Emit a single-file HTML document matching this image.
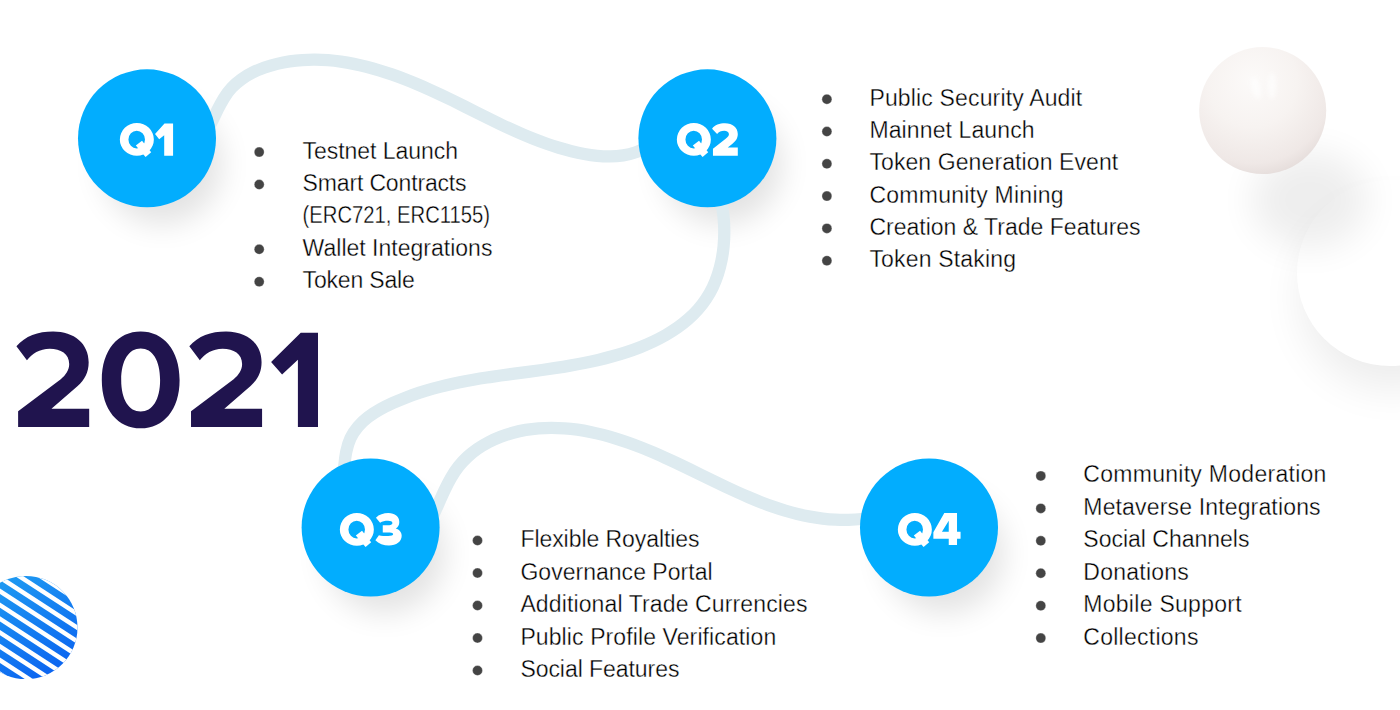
<!DOCTYPE html>
<html><head><meta charset="utf-8">
<style>
html,body{margin:0;padding:0;background:#fff;}
body{width:1400px;height:710px;overflow:hidden;position:relative;font-family:"Liberation Sans",sans-serif;}
svg{position:absolute;left:0;top:0;}
</style></head><body>
<svg width="1400" height="710" viewBox="0 0 1400 710">
<defs>
  <filter id="sh" x="-60%" y="-60%" width="220%" height="220%"><feGaussianBlur stdDeviation="15"/></filter>
  <filter id="hl" x="-100%" y="-100%" width="300%" height="300%"><feGaussianBlur stdDeviation="2"/></filter>
  <filter id="sh3" x="-60%" y="-60%" width="220%" height="220%"><feGaussianBlur stdDeviation="15"/></filter>
  <filter id="sh4" x="-60%" y="-60%" width="220%" height="220%"><feGaussianBlur stdDeviation="18"/></filter>
  <filter id="sh2" x="-60%" y="-60%" width="220%" height="220%"><feGaussianBlur stdDeviation="22"/></filter>
  <radialGradient id="sph" cx="0.42" cy="0.30" r="0.78" fx="0.42" fy="0.26">
    <stop offset="0" stop-color="#fcfaf9"/>
    <stop offset="0.45" stop-color="#f7f3f1"/>
    <stop offset="0.8" stop-color="#efe8e6"/>
    <stop offset="1" stop-color="#e0d7d5"/>
  </radialGradient>
  <linearGradient id="stripeg" x1="0" y1="0" x2="0.6" y2="1">
    <stop offset="0" stop-color="#22a6f2"/>
    <stop offset="1" stop-color="#0b62f0"/>
  </linearGradient>
  <clipPath id="stripeclip"><circle cx="25.9" cy="627.5" r="51.6"/></clipPath>
  
</defs>

<!-- shadows for big right circle and sphere -->
<circle cx="1392" cy="298" r="90" fill="#000" opacity="0.075" filter="url(#sh2)"/>
<circle cx="1390" cy="273" r="93" fill="#fff"/>
<ellipse cx="1310" cy="200" rx="58" ry="48" fill="#000" opacity="0.065" filter="url(#sh4)"/>

<!-- circle shadows -->
<g fill="#000" opacity="0.11" filter="url(#sh)">
  <circle cx="162" cy="164" r="60"/>
  <circle cx="722" cy="164" r="60"/>
  <circle cx="385" cy="553" r="60"/>
  <circle cx="944" cy="553" r="60"/>
</g>
<!-- road -->
<g fill="none" stroke="#deebf0" stroke-width="12.3" stroke-linecap="round">
<path d="M205.23 133.20 C207.50 129.83 209.55 126.08 211.54 122.16 C213.52 118.23 215.44 114.13 217.45 110.06 C219.46 105.99 221.56 101.96 223.90 98.16 C226.24 94.36 228.85 90.81 231.81 87.66 C234.76 84.50 238.03 81.69 241.53 79.19 C245.02 76.69 248.75 74.50 252.63 72.58 C256.51 70.65 260.55 69.00 264.65 67.56 C268.75 66.13 272.92 64.92 277.10 63.90 C281.28 62.88 285.48 62.06 289.70 61.42 C293.92 60.77 298.15 60.31 302.40 60.02 C306.65 59.73 310.91 59.61 315.17 59.65 C319.44 59.69 323.71 59.88 327.99 60.21 C332.27 60.55 336.55 61.03 340.83 61.64 C345.11 62.25 349.39 62.99 353.66 63.85 C357.93 64.71 362.20 65.69 366.45 66.77 C370.70 67.86 374.95 69.05 379.18 70.33 C383.41 71.61 387.62 72.98 391.81 74.43 C396.00 75.88 400.18 77.41 404.32 79.01 C408.47 80.61 412.59 82.27 416.69 83.99 C420.78 85.71 424.85 87.48 428.88 89.29 C432.91 91.11 436.91 92.96 440.88 94.84 C444.85 96.72 448.80 98.63 452.72 100.56 C456.65 102.49 460.56 104.43 464.45 106.38 C468.35 108.33 472.23 110.28 476.11 112.22 C479.99 114.17 483.86 116.11 487.73 118.02 C491.60 119.94 495.47 121.84 499.35 123.70 C503.23 125.57 507.12 127.40 511.03 129.19 C514.93 130.98 518.85 132.73 522.78 134.41 C526.72 136.10 530.68 137.73 534.67 139.30 C538.65 140.86 542.67 142.36 546.72 143.77 C550.77 145.19 554.85 146.52 558.97 147.76 C563.10 149.00 567.26 150.15 571.48 151.19 C575.69 152.24 579.95 153.18 584.26 153.98 C588.56 154.78 592.89 155.43 597.23 155.86 C601.58 156.29 605.92 156.50 610.26 156.44 C614.59 156.38 618.90 156.03 623.18 155.35 C627.45 154.66 631.67 153.62 635.84 152.21 C640.00 150.80 644.10 149.04 648.12 147.05 C652.15 145.07 656.10 142.86 659.96 140.54"/>
<path d="M718.22 190.30 C719.55 194.53 720.66 198.94 721.56 203.48 C722.46 208.02 723.15 212.68 723.61 217.42 C724.07 222.16 724.30 226.97 724.30 231.80 C724.30 236.63 724.07 241.48 723.60 246.30 C723.13 251.11 722.42 255.90 721.47 260.60 C720.51 265.29 719.30 269.91 717.84 274.38 C716.38 278.85 714.67 283.18 712.69 287.32 C710.71 291.46 708.46 295.40 705.96 299.13 C703.47 302.86 700.72 306.39 697.76 309.72 C694.79 313.06 691.61 316.21 688.23 319.18 C684.85 322.15 681.28 324.94 677.55 327.57 C673.81 330.20 669.91 332.67 665.87 334.98 C661.83 337.30 657.65 339.46 653.36 341.48 C649.08 343.51 644.68 345.39 640.19 347.15 C635.71 348.91 631.14 350.54 626.52 352.06 C621.89 353.58 617.21 354.98 612.51 356.28 C607.80 357.59 603.06 358.79 598.32 359.90 C593.58 361.02 588.84 362.04 584.12 362.99 C579.40 363.95 574.69 364.82 570.00 365.64 C565.31 366.46 560.63 367.22 555.96 367.94 C551.29 368.65 546.64 369.33 542.00 369.98 C537.36 370.63 532.73 371.25 528.12 371.86 C523.50 372.47 518.90 373.07 514.31 373.68 C509.72 374.28 505.14 374.90 500.58 375.53 C496.01 376.16 491.46 376.82 486.91 377.51 C482.37 378.20 477.84 378.93 473.32 379.71 C468.80 380.49 464.29 381.32 459.79 382.22 C455.29 383.13 450.80 384.10 446.32 385.16 C441.84 386.21 437.38 387.36 432.92 388.60 C428.46 389.84 424.01 391.18 419.57 392.64 C415.13 394.10 410.70 395.68 406.28 397.39 C401.86 399.10 397.45 400.94 393.05 402.93 C388.65 404.92 384.28 407.07 380.07 409.43 C375.86 411.79 371.83 414.36 368.09 417.21 C364.36 420.07 360.94 423.19 357.96 426.65 C354.98 430.12 352.45 433.91 350.51 438.11 C348.56 442.30 347.21 446.90 346.24 451.66 C345.27 456.42 344.69 461.34 344.26 466.17 C343.83 471.01 343.56 475.75 343.23 480.17"/>
<path d="M428.20 525.08 C430.25 521.46 432.15 517.63 434.00 513.67 C435.84 509.72 437.63 505.64 439.44 501.54 C441.25 497.43 443.08 493.30 445.03 489.24 C446.97 485.17 449.02 481.18 451.26 477.34 C453.50 473.50 455.93 469.83 458.63 466.41 C461.33 462.99 464.29 459.82 467.47 456.88 C470.65 453.95 474.05 451.26 477.62 448.79 C481.18 446.33 484.92 444.10 488.78 442.10 C492.65 440.09 496.64 438.31 500.70 436.75 C504.77 435.19 508.92 433.85 513.10 432.71 C517.29 431.58 521.50 430.66 525.74 429.93 C529.98 429.21 534.25 428.68 538.53 428.33 C542.82 427.98 547.12 427.81 551.43 427.81 C555.74 427.81 560.06 427.98 564.38 428.30 C568.71 428.62 573.03 429.09 577.36 429.70 C581.68 430.31 585.99 431.06 590.30 431.93 C594.60 432.80 598.89 433.80 603.16 434.90 C607.44 436.01 611.69 437.22 615.91 438.52 C620.13 439.83 624.33 441.23 628.49 442.71 C632.66 444.19 636.80 445.75 640.91 447.37 C645.02 449.00 649.11 450.69 653.17 452.43 C657.24 454.17 661.29 455.97 665.32 457.80 C669.35 459.64 673.36 461.51 677.36 463.41 C681.36 465.31 685.35 467.23 689.33 469.16 C693.31 471.09 697.28 473.04 701.24 474.98 C705.20 476.92 709.16 478.86 713.12 480.78 C717.08 482.70 721.04 484.61 725.00 486.48 C728.96 488.36 732.93 490.20 736.90 492.01 C740.87 493.81 744.84 495.56 748.83 497.26 C752.82 498.96 756.82 500.60 760.83 502.17 C764.84 503.74 768.87 505.23 772.92 506.65 C776.96 508.06 781.03 509.38 785.12 510.61 C789.20 511.84 793.31 512.97 797.45 513.98 C801.58 514.99 805.75 515.90 809.94 516.67 C814.13 517.45 818.35 518.09 822.61 518.60 C826.87 519.11 831.16 519.48 835.49 519.69 C839.82 519.90 844.18 519.96 848.59 519.85 C853.00 519.74 857.45 519.46 861.95 519.00 C866.45 518.54 870.99 517.90 875.58 517.06"/>
</g>

<g fill="#02adfe">
  <circle cx="147" cy="138.3" r="69"/>
  <circle cx="707.4" cy="138.3" r="69"/>
  <circle cx="370.6" cy="527.5" r="69"/>
  <circle cx="929" cy="527.5" r="69"/>
</g>

<!-- Q labels -->
<g fill="#fff">
  <g transform="translate(116,118) scale(0.059155)"><path fill-rule="evenodd" d="M65 362.5 A287.5 277.5 0 1 0 640 362.5 A287.5 277.5 0 1 0 65 362.5 Z M210 365 A140 150 0 1 0 490 365 A140 150 0 1 0 210 365 Z"/><path d="M335 465 L440 385 L595 580 L500 660 Z"/></g>
  <g transform="translate(673,118) scale(0.059155)"><path fill-rule="evenodd" d="M65 362.5 A287.5 277.5 0 1 0 640 362.5 A287.5 277.5 0 1 0 65 362.5 Z M210 365 A140 150 0 1 0 490 365 A140 150 0 1 0 210 365 Z"/><path d="M335 465 L440 385 L595 580 L500 660 Z"/></g>
  <g transform="translate(336,508) scale(0.059155)"><path fill-rule="evenodd" d="M65 362.5 A287.5 277.5 0 1 0 640 362.5 A287.5 277.5 0 1 0 65 362.5 Z M210 365 A140 150 0 1 0 490 365 A140 150 0 1 0 210 365 Z"/><path d="M335 465 L440 385 L595 580 L500 660 Z"/></g>
  <g transform="translate(894,508) scale(0.059155)"><path fill-rule="evenodd" d="M65 362.5 A287.5 277.5 0 1 0 640 362.5 A287.5 277.5 0 1 0 65 362.5 Z M210 365 A140 150 0 1 0 490 365 A140 150 0 1 0 210 365 Z"/><path d="M335 465 L440 385 L595 580 L500 660 Z"/></g>
  <path transform="translate(150,118) scale(0.05917)" d="M245 95 L390 95 L390 640 L240 640 L240 290 L155 360 L85 270 Z"/>
  <path transform="translate(710,118) scale(0.05915)" d="M35 180 C80 120 160 90 255 90 C380 90 470 165 470 270 C470 345 430 395 380 435 L300 500 L470 500 L470 640 L50 640 L50 520 L270 345 C305 318 320 300 320 275 C320 235 285 215 240 215 C190 215 150 235 120 270 Z"/>
  <g transform="translate(373,508) scale(0.05915)">
    <path d="M50 165 C100 110 180 85 260 85 C370 85 445 145 445 235 C445 290 420 325 385 345 C445 365 485 405 485 470 C485 570 395 635 270 635 C180 635 95 600 40 545 L100 460 C140 472 200 474 255 474 C310 474 340 465 340 445 C340 425 320 413 285 413 L165 413 L165 290 L275 290 C305 290 328 278 328 255 C328 228 300 215 255 215 C200 215 160 225 120 250 Z"/>
  </g>
  <path transform="translate(931,508) scale(0.05915)" fill-rule="evenodd" d="M225 85 L440 85 L440 400 L500 400 L500 520 L440 520 L440 625 L300 625 L300 520 L40 520 L40 410 Z M300 215 L300 400 L185 400 Z"/>
</g>

<!-- 2021 -->
<g fill="#20144e">
  <path id="two" transform="translate(10,320) scale(0.16918)" d="M38 155 C90 95 165 68 255 68 C380 68 465 140 465 250 C465 310 440 355 400 390 L245 525 L468 525 L468 632 L48 632 L48 540 L300 350 C330 325 350 295 350 260 C350 200 300 170 235 170 C175 170 130 200 100 238 Z"/>
  <path transform="translate(182.9,320) scale(0.16918)" d="M38 155 C90 95 165 68 255 68 C380 68 465 140 465 250 C465 310 440 355 400 390 L245 525 L468 525 L468 632 L48 632 L48 540 L300 350 C330 325 350 295 350 260 C350 200 300 170 235 170 C175 170 130 200 100 238 Z"/>
  <path fill-rule="evenodd" d="M101.8 379.9 C101.8 350 118 331.5 140.7 331.5 C163.4 331.5 179.6 350 179.6 379.9 C179.6 409.8 163.4 428.3 140.7 428.3 C118 428.3 101.8 409.8 101.8 379.9 Z M121.2 379.9 C121.2 360 129 348.4 140.7 348.4 C152.4 348.4 160.1 360 160.1 379.9 C160.1 399.8 152.4 411.4 140.7 411.4 C129 411.4 121.2 399.8 121.2 379.9 Z"/>
  <path d="M300.75 332.7 L318 332.7 L318 426.9 L297.9 426.9 L297.9 359.8 L282.1 374.5 L271.1 362 Z"/>
</g>

<!-- sphere -->
<circle cx="1262.7" cy="110.6" r="63.5" fill="url(#sph)"/>
<ellipse cx="1256" cy="88" rx="4" ry="11" fill="#fff" opacity="0.7" filter="url(#hl)" transform="rotate(-12 1256 88)"/>
<ellipse cx="1272" cy="86" rx="4" ry="13" fill="#fff" opacity="0.6" filter="url(#hl)"/>

<!-- striped circle -->
<g clip-path="url(#stripeclip)">
  <rect x="-30" y="570" width="120" height="115" fill="url(#stripeg)"/>
  <g transform="rotate(33 25.9 627.5)" fill="#fff">
    <rect x="-60" y="527.98" width="180" height="4.5"/>
    <rect x="-60" y="539.55" width="180" height="4.5"/>
    <rect x="-60" y="551.12" width="180" height="4.5"/>
    <rect x="-60" y="562.69" width="180" height="4.5"/>
    <rect x="-60" y="574.26" width="180" height="4.5"/>
    <rect x="-60" y="585.83" width="180" height="4.5"/>
    <rect x="-60" y="597.40" width="180" height="4.5"/>
    <rect x="-60" y="608.97" width="180" height="4.5"/>
    <rect x="-60" y="620.54" width="180" height="4.5"/>
    <rect x="-60" y="632.11" width="180" height="4.5"/>
    <rect x="-60" y="643.68" width="180" height="4.5"/>
    <rect x="-60" y="655.25" width="180" height="4.5"/>
    <rect x="-60" y="666.82" width="180" height="4.5"/>
    <rect x="-60" y="678.39" width="180" height="4.5"/>
    <rect x="-60" y="689.96" width="180" height="4.5"/>
  </g>
</g>

<!-- lists -->
<g font-family="Liberation Sans, sans-serif" font-size="23" fill="#000" stroke="#fff" stroke-width="0.34">
<text x="302.6" y="158.6" textLength="155.4" lengthAdjust="spacing">Testnet Launch</text>
<circle cx="259.2" cy="152.1" r="5" fill="#444"/>
<text x="302.6" y="191.0" textLength="164.0" lengthAdjust="spacing">Smart Contracts</text>
<circle cx="259.2" cy="184.5" r="5" fill="#444"/>
<text x="302.6" y="223.4" textLength="187.4" lengthAdjust="spacingAndGlyphs">(ERC721, ERC1155)</text>
<text x="302.6" y="255.8" textLength="189.8" lengthAdjust="spacing">Wallet Integrations</text>
<circle cx="259.2" cy="249.3" r="5" fill="#444"/>
<text x="302.6" y="288.2" textLength="112.2" lengthAdjust="spacing">Token Sale</text>
<circle cx="259.2" cy="281.7" r="5" fill="#444"/>
<text x="869.4" y="105.7" textLength="212.8" lengthAdjust="spacing">Public Security Audit</text>
<circle cx="826.9" cy="99.2" r="5" fill="#444"/>
<text x="869.4" y="138.0" textLength="165.2" lengthAdjust="spacing">Mainnet Launch</text>
<circle cx="826.9" cy="131.5" r="5" fill="#444"/>
<text x="869.4" y="170.3" textLength="248.8" lengthAdjust="spacing">Token Generation Event</text>
<circle cx="826.9" cy="163.8" r="5" fill="#444"/>
<text x="869.4" y="202.6" textLength="194.2" lengthAdjust="spacing">Community Mining</text>
<circle cx="826.9" cy="196.1" r="5" fill="#444"/>
<text x="869.4" y="234.9" textLength="271.2" lengthAdjust="spacing">Creation &amp; Trade Features</text>
<circle cx="826.9" cy="228.4" r="5" fill="#444"/>
<text x="869.4" y="267.2" textLength="146.6" lengthAdjust="spacing">Token Staking</text>
<circle cx="826.9" cy="260.7" r="5" fill="#444"/>
<text x="520.4" y="547.0" textLength="179.2" lengthAdjust="spacing">Flexible Royalties</text>
<circle cx="477.5" cy="540.5" r="5" fill="#444"/>
<text x="520.4" y="579.5" textLength="192.2" lengthAdjust="spacing">Governance Portal</text>
<circle cx="477.5" cy="573.0" r="5" fill="#444"/>
<text x="520.4" y="612.0" textLength="287.0" lengthAdjust="spacing">Additional Trade Currencies</text>
<circle cx="477.5" cy="605.5" r="5" fill="#444"/>
<text x="520.4" y="644.5" textLength="255.8" lengthAdjust="spacing">Public Profile Verification</text>
<circle cx="477.5" cy="638.0" r="5" fill="#444"/>
<text x="520.4" y="677.0" textLength="159.0" lengthAdjust="spacing">Social Features</text>
<circle cx="477.5" cy="670.5" r="5" fill="#444"/>
<text x="1083.3" y="482.4" textLength="243.1" lengthAdjust="spacing">Community Moderation</text>
<circle cx="1040.8" cy="475.9" r="5" fill="#444"/>
<text x="1083.3" y="514.9" textLength="237.3" lengthAdjust="spacing">Metaverse Integrations</text>
<circle cx="1040.8" cy="508.4" r="5" fill="#444"/>
<text x="1083.3" y="547.3" textLength="166.1" lengthAdjust="spacing">Social Channels</text>
<circle cx="1040.8" cy="540.8" r="5" fill="#444"/>
<text x="1083.3" y="579.8" textLength="105.5" lengthAdjust="spacing">Donations</text>
<circle cx="1040.8" cy="573.2" r="5" fill="#444"/>
<text x="1083.3" y="612.2" textLength="158.3" lengthAdjust="spacing">Mobile Support</text>
<circle cx="1040.8" cy="605.7" r="5" fill="#444"/>
<text x="1083.3" y="644.6" textLength="115.1" lengthAdjust="spacing">Collections</text>
<circle cx="1040.8" cy="638.1" r="5" fill="#444"/>
</g>
</svg>
</body></html>
